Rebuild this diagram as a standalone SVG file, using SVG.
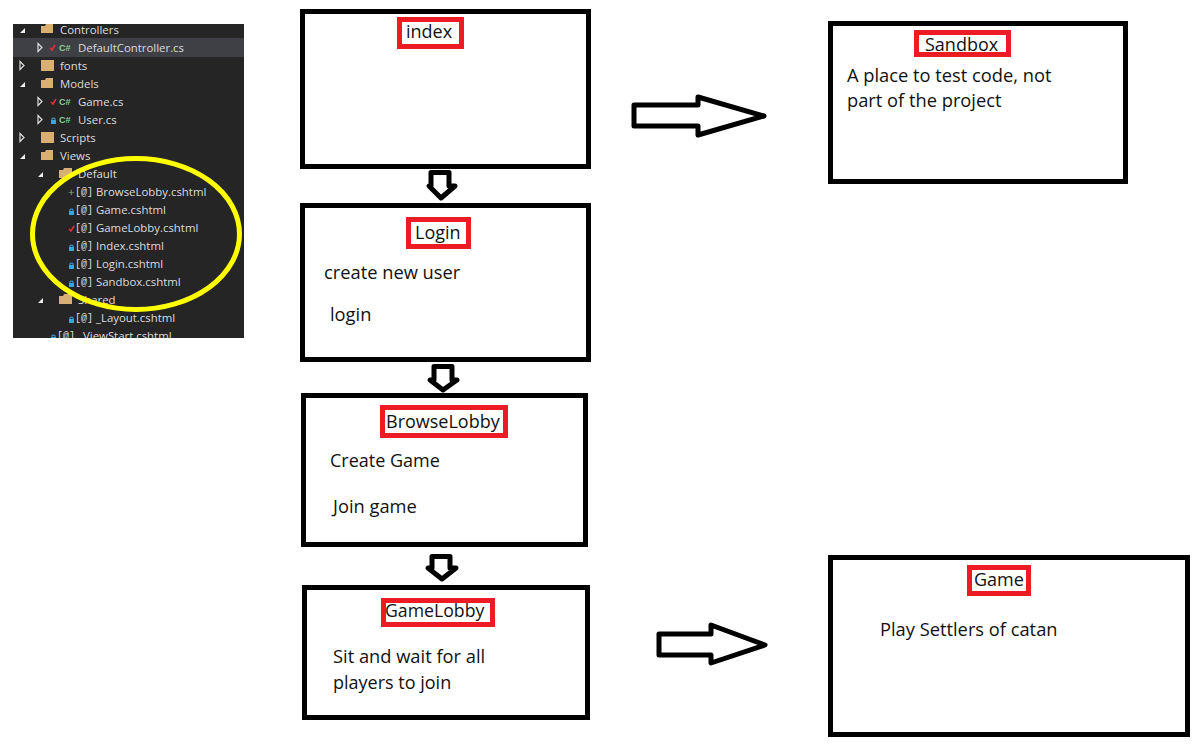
<svg xmlns="http://www.w3.org/2000/svg" width="1203" height="750" viewBox="0 0 1203 750">
<style>
.box{fill:#fff;stroke:#000;stroke-width:5}
.lab{fill:#fff;stroke:#ed1c24;stroke-width:5}
.t{font-family:"Open Sans","Noto Sans",sans-serif;font-size:18px;fill:#111}
.b{font-size:18.300px}
.f{font-family:"Open Sans","Noto Sans",sans-serif;font-size:11.400px;fill:#dcdcdc}
.arr{fill:#fff;stroke:#000;stroke-width:5;stroke-linejoin:round}
.fo{fill:#d8b074}
.tri{fill:#eee}
.tro{fill:none;stroke:#ddd;stroke-width:1.2}
.cs{font-family:"Liberation Sans",sans-serif;font-size:9px;font-weight:bold;fill:#8fce8f}
.at{font-family:"Liberation Mono",monospace;font-size:10px;fill:#ddd}
.lk{fill:#3ba4e0}
.ck{fill:none;stroke:#e03030;stroke-width:1.6}
</style>
<defs><g id="lock"><rect class="lk" x="0" y="3" width="5" height="4"/><path d="M1 3V1.200H4V3" fill="none" stroke="#3ba4e0"/></g></defs>
<rect width="1203" height="750" fill="#fff"/>
<g id="explorer">
<rect x="13" y="24" width="231" height="314" fill="#252526"/>
<rect x="13" y="38" width="231" height="19" fill="#3f3f46"/>
<path class="tri" d="M20 33l5-5v5z"/><path class="fo" d="M41 33v-7h4l1-2h7v9z"/><text class="f" x="60" y="34">Controllers</text>
<path class="tro" d="M38 43.500l4 4-4 4z"/><path class="ck" d="M50 48l2 2 3-5"/><text class="cs" x="59" y="51">C#</text><text class="f" x="78" y="52">DefaultController.cs</text>
<path class="tro" d="M20 61.500l4 4-4 4z"/><rect class="fo" x="41" y="60" width="13" height="11"/><text class="f" x="60" y="70">fonts</text>
<path class="tri" d="M20 87l5-5v5z"/><path class="fo" d="M41 88v-8h4l1-2h7v10z"/><text class="f" x="60" y="88">Models</text>
<path class="tro" d="M38 97.500l4 4-4 4z"/><path class="ck" d="M51 102l2 2 3-5"/><text class="cs" x="59" y="105">C#</text><text class="f" x="78" y="106">Game.cs</text>
<path class="tro" d="M38 115.500l4 4-4 4z"/><use href="#lock" x="51" y="117"/><text class="cs" x="59" y="123">C#</text><text class="f" x="78" y="124">User.cs</text>
<path class="tro" d="M20 133.500l4 4-4 4z"/><rect class="fo" x="41" y="132" width="13" height="11"/><text class="f" x="60" y="142">Scripts</text>
<path class="tri" d="M20 159l5-5v5z"/><path class="fo" d="M41 160v-8h4l1-2h7v10z"/><text class="f" x="60" y="160">Views</text>
<path class="tri" d="M38 177l5-5v5z"/><path class="fo" d="M59 178v-8h4l1-2h8v10z"/><text class="f" x="78" y="178">Default</text>
<text x="68" y="196" class="f" style="fill:#7ab97a">+</text><text class="at" x="75" y="195">[@]</text><text class="f" x="96" y="196">BrowseLobby.cshtml</text>
<use href="#lock" x="69" y="208"/><text class="at" x="75" y="213">[@]</text><text class="f" x="96" y="214">Game.cshtml</text>
<path class="ck" d="M69 229l2 2 3-5"/><text class="at" x="75" y="231">[@]</text><text class="f" x="96" y="232">GameLobby.cshtml</text>
<use href="#lock" x="69" y="244"/><text class="at" x="75" y="249">[@]</text><text class="f" x="96" y="250">Index.cshtml</text>
<use href="#lock" x="69" y="262"/><text class="at" x="75" y="267">[@]</text><text class="f" x="96" y="268">Login.cshtml</text>
<use href="#lock" x="69" y="280"/><text class="at" x="75" y="285">[@]</text><text class="f" x="96" y="286">Sandbox.cshtml</text>
<path class="tri" d="M38 303l5-5v5z"/><path class="fo" d="M59 304v-8h4l1-2h8v10z"/><text class="f" x="78" y="304">Shared</text>
<use href="#lock" x="69" y="316"/><text class="at" x="75" y="321">[@]</text><text class="f" x="96" y="322">_Layout.cshtml</text>
<clipPath id="pc"><rect x="13" y="24" width="231" height="314"/></clipPath>
<g clip-path="url(#pc)"><use href="#lock" x="51" y="334"/><text class="at" x="57" y="339">[@]</text><text class="f" x="78" y="340">_ViewStart.cshtml</text></g>
<ellipse cx="136" cy="234" rx="103.500" ry="75.500" fill="none" stroke="#ffff00" stroke-width="5"/>
</g>
<g id="connectors">
<path class="arr" d="M634 105H698V97L764 116L698 135V126H634Z"/>
<path class="arr" d="M659 634H711V625L765 645L711 663V655H659Z"/>
<path class="arr" d="M431 172.500H449V186H455L441 198L429 186H431Z"/>
<path class="arr" d="M434 366.500H452V380H457L443 390L430 380H434Z"/>
<path class="arr" d="M432 556.500H450V568H456L442 579L428 568H432Z"/>
</g>
<g id="index"><rect class="box" x="302.500" y="11.500" width="286" height="155"/><rect class="lab" x="399.500" y="19.500" width="62" height="27"/><text class="t" x="406" y="38">index</text></g>
<g id="login"><rect class="box" x="302.500" y="205.500" width="286" height="154"/><rect class="lab" x="408.500" y="219.500" width="60" height="27"/><text class="t" x="415" y="239">Login</text><text class="t b" x="324" y="279">create new user</text><text class="t b" x="330" y="321">login</text></g>
<g id="browselobby"><rect class="box" x="303.500" y="395.500" width="282" height="149"/><rect class="lab" x="382.500" y="407.500" width="123" height="28"/><text class="t" x="386" y="428">BrowseLobby</text><text class="t" x="330" y="467">Create Game</text><text class="t b" x="333" y="513">Join game</text></g>
<g id="gamelobby"><rect class="box" x="304.500" y="587.500" width="283" height="130"/><rect class="lab" x="383.500" y="600.500" width="109" height="24"/><text class="t" x="385" y="617" style="font-size:17.700px">GameLobby</text><text class="t b" x="333" y="663">Sit and wait for all</text><text class="t" x="333" y="689">players to join</text></g>
<g id="sandbox"><rect class="box" x="830.500" y="23.500" width="295" height="158"/><rect class="lab" x="916.500" y="32.500" width="92" height="22"/><text class="t" x="925" y="51">Sandbox</text><text class="t b" x="847" y="82">A place to test code, not</text><text class="t b" x="847" y="107">part of the project</text></g>
<g id="game"><rect class="box" x="830.500" y="557.500" width="357" height="177"/><rect class="lab" x="969.500" y="567.500" width="59" height="26"/><text class="t" x="974" y="586">Game</text><text class="t b" x="880" y="636">Play Settlers of catan</text></g>
</svg>
